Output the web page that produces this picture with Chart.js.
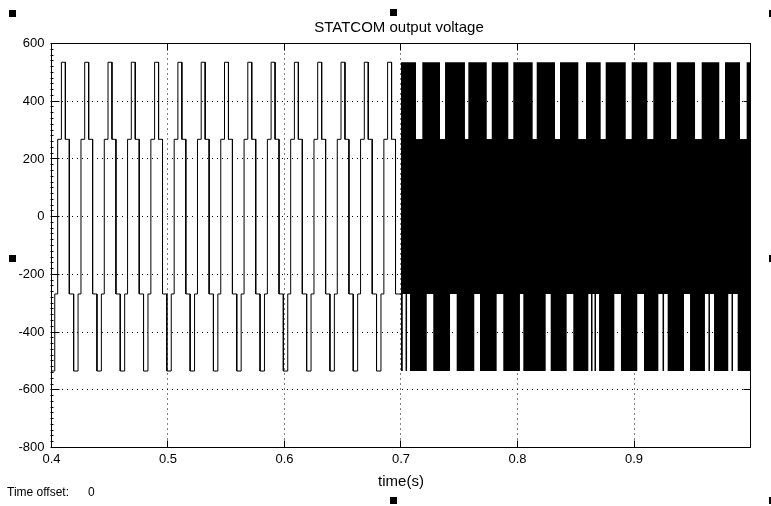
<!DOCTYPE html>
<html><head><meta charset="utf-8">
<script src="https://cdn.jsdelivr.net/npm/chart.js@4.4.1/dist/chart.umd.min.js"></script>
<style>html,body{margin:0;padding:0;background:#fff;}canvas{display:block;}</style>
</head><body>
<canvas id="c" width="771" height="506"></canvas>
<script>
// ---------------- data ----------------
const chartTitle = 'STATCOM output voltage';
const xAxisLabel = 'time(s)';
const offsetLabel = 'Time offset:';
const offsetValue = '0';
const xTickValues = [0.4, 0.5, 0.6, 0.7, 0.8, 0.9, 1.0];
const xTickLabels = ['0.4', '0.5', '0.6', '0.7', '0.8', '0.9', ''];
const yTickValues = [-800, -600, -400, -200, 0, 200, 400, 600];
const yTickLabels = ['-800', '-600', '-400', '-200', '0', '200', '400', '600'];
const yMinorStep = 20;

// stepped (fundamental-frequency) output before 0.7 s, volts
const leadTimes = [0.4, 0.4028];
const leadLevels = [-535, -268];
const cycleStarts = [0.4053, 0.4253, 0.4453, 0.4653, 0.4853, 0.5053, 0.5253, 0.5453,
                     0.5653, 0.5853, 0.6053, 0.6253, 0.6453, 0.6653, 0.6853];
const stepOffsets = [0, 0.0032, 0.0066, 0.0100, 0.0137, 0.0175];
const stepLevels  = [268, 535, 268, -268, -535, -268];
const lastSwitch = 0.698;

// PWM output after 0.7 s: dense switching bands with white gaps
const pwmStart = 0.7, pwmEnd = 1.0;
const upperOuter = 535, upperInner = 268;
const lowerOuter = -535, lowerInner = -268;
const upperGapStart = [0.7129, 0.7335, 0.7549, 0.7736, 0.7921, 0.8130, 0.8322, 0.8522,
                       0.8714, 0.8929, 0.9114, 0.9318, 0.9524, 0.9732, 0.9910];
const upperGapEnd   = [0.7183, 0.7378, 0.7578, 0.7779, 0.7964, 0.8165, 0.8365, 0.8588,
                       0.8757, 0.8980, 0.9166, 0.9367, 0.9581, 0.9781, 0.9967];
const lowerGapStart = [0.7015, 0.7052, 0.7221, 0.7421, 0.7629, 0.7821, 0.8021, 0.8242,
                       0.8422, 0.8608, 0.8644, 0.8674, 0.8831, 0.9028, 0.9209, 0.9258,
                       0.9429, 0.9609, 0.9652, 0.9809, 0.9850];
const lowerGapEnd   = [0.7039, 0.7077, 0.7277, 0.7478, 0.7678, 0.7878, 0.8050, 0.8285,
                       0.8479, 0.8631, 0.8661, 0.8700, 0.8888, 0.9086, 0.9245, 0.9289,
                       0.9481, 0.9639, 0.9687, 0.9837, 0.9890];

// ---------------- build the point tables ----------------
const wavePts = [];
leadTimes.forEach((t, i) => {
  if (i > 0) wavePts.push({x: t, y: leadLevels[i - 1]});
  wavePts.push({x: t, y: leadLevels[i]});
});
let prevLevel = leadLevels[leadLevels.length - 1];
cycleStarts.forEach(c => stepOffsets.forEach((o, i) => {
  const t = c + o;
  if (t >= lastSwitch) return;
  wavePts.push({x: t, y: prevLevel}, {x: t, y: stepLevels[i]});
  prevLevel = stepLevels[i];
}));
wavePts.push({x: pwmStart, y: prevLevel});

function envelope(starts, ends, outer, inner) {
  const pts = [{x: pwmStart, y: outer}];
  starts.forEach((s, i) => {
    pts.push({x: s, y: outer}, {x: s, y: inner}, {x: ends[i], y: inner}, {x: ends[i], y: outer});
  });
  pts.push({x: pwmEnd, y: outer});
  return pts;
}
const upperPts = envelope(upperGapStart, upperGapEnd, upperOuter, upperInner);
const lowerPts = envelope(lowerGapStart, lowerGapEnd, lowerOuter, lowerInner);

// ---------------- chart ----------------
const FONT = "'Liberation Sans', Arial, sans-serif";
Chart.defaults.font.family = FONT;
Chart.defaults.color = '#000';

const scopeFrame = {
  id: 'scopeFrame',
  afterDraw(chart) {
    const {ctx, chartArea: a, scales: {x, y}} = chart;
    const al = v => Math.round(v - 0.5) + 0.5;
    const L = al(a.left), R = al(a.right), T = al(a.top), B = al(a.bottom);
    ctx.save();
    ctx.strokeStyle = '#000';
    ctx.lineWidth = 1;
    ctx.beginPath();
    ctx.rect(L, T, R - L, B - T);
    xTickValues.forEach(v => {
      const px = al(x.getPixelForValue(v));
      ctx.moveTo(px, B); ctx.lineTo(px, B - 7);
      ctx.moveTo(px, T); ctx.lineTo(px, T + 7);
    });
    yTickValues.forEach(v => {
      const py = al(y.getPixelForValue(v));
      ctx.moveTo(L, py); ctx.lineTo(L + 8, py);
      ctx.moveTo(R, py); ctx.lineTo(R - 7, py);
    });
    for (let v = y.min; v <= y.max; v += yMinorStep) {
      const py = al(y.getPixelForValue(v));
      ctx.moveTo(L - 1, py); ctx.lineTo(L + 2, py);
    }
    ctx.stroke();
    // selection handles of the scope figure
    ctx.fillStyle = '#000';
    [[9, 10, 7, 7], [390, 9, 7, 7], [9, 255, 7, 7], [390, 497, 7, 7],
     [769, 10, 2, 7], [769, 255, 2, 7], [769, 497, 2, 7]].forEach(r => ctx.fillRect(...r));
    ctx.font = '12px ' + FONT;
    ctx.textBaseline = 'alphabetic';
    ctx.textAlign = 'left';
    ctx.fillText(offsetLabel, 7, 496);
    ctx.fillText(offsetValue, 88, 496);
    ctx.restore();
  }
};

new Chart(document.getElementById('c'), {
  type: 'line',
  data: {
    datasets: [
      {label: 'stepped', data: wavePts, borderColor: '#000', borderWidth: 1,
       pointRadius: 0, fill: false, tension: 0},
      {label: 'pwm upper', data: upperPts, borderColor: 'rgba(0,0,0,0)', borderWidth: 1,
       backgroundColor: '#000', pointRadius: 0, tension: 0, fill: {value: lowerInner}},
      {label: 'pwm lower', data: lowerPts, borderColor: 'rgba(0,0,0,0)', borderWidth: 1,
       backgroundColor: '#000', pointRadius: 0, tension: 0, fill: {value: upperInner}}
    ]
  },
  options: {
    responsive: false,
    animation: false,
    devicePixelRatio: 1,
    events: [],
    layout: {padding: {left: 0, right: -27, top: 0, bottom: 0}},
    plugins: {
      legend: {display: false},
      tooltip: {enabled: false},
      title: {display: true, text: chartTitle, color: '#000',
              font: {size: 15, weight: 'normal', family: FONT},
              padding: {top: 19, bottom: 6.5}}
    },
    scales: {
      x: {
        type: 'linear', position: 'bottom', min: 0.4, max: 1.0,
        afterBuildTicks: s => { s.ticks = xTickValues.map(v => ({value: v})); },
        afterFit: s => { s.height = 58.5; },
        ticks: {padding: 4, font: {size: 13}, color: '#000', maxRotation: 0,
                callback: (v, i) => xTickLabels[i]},
        grid: {color: '#000', lineWidth: 1, drawTicks: false},
        border: {display: false, dash: [1, 4]},
        title: {display: true, text: xAxisLabel, color: '#000',
                font: {size: 15, family: FONT}, padding: {top: 0, bottom: 15}}
      },
      y: {
        type: 'linear', position: 'left', min: -800, max: 600,
        afterBuildTicks: s => { s.ticks = yTickValues.map(v => ({value: v})); },
        afterFit: s => { s.width = 51.5; },
        ticks: {padding: 7, font: {size: 13}, color: '#000',
                callback: (v, i) => yTickLabels[i]},
        grid: {color: '#000', lineWidth: 1, drawTicks: false},
        border: {display: false, dash: [1, 4]}
      },
      y2: {
        type: 'linear', position: 'right', display: true,
        afterFit: s => { s.width = 47.5; },
        ticks: {display: false},
        grid: {display: false, drawTicks: false},
        border: {display: false}
      }
    }
  },
  plugins: [scopeFrame]
});
</script>
</body></html>
